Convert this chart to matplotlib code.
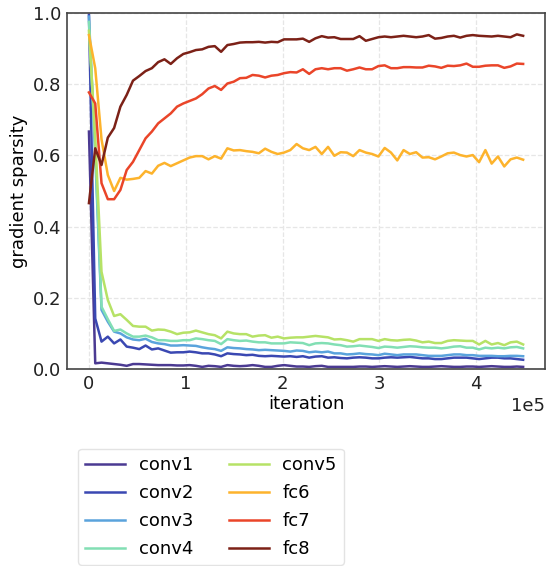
import numpy as np
import matplotlib
matplotlib.use("Agg")
import matplotlib.pyplot as plt

layer_names = ["conv1", "conv2", "conv3", "conv4", "conv5", "fc6", "fc7", "fc8"]
colors = ["#4b3a92", "#3a48b2", "#5aa3dc", "#82dfb4", "#b6e266", "#fdb32c", "#ea4529", "#7c2117"]

n_points = 70
iterations = np.arange(n_points) * 6500

conv1 = [0.667, 0.016, 0.018, 0.016, 0.014, 0.012, 0.009, 0.014, 0.014, 0.013, 0.012, 0.011, 0.011, 0.011, 0.010, 0.010,
         0.011, 0.009, 0.006, 0.009, 0.008, 0.006, 0.011, 0.009, 0.008, 0.009, 0.011, 0.009, 0.006, 0.006, 0.009, 0.011,
         0.009, 0.007, 0.007, 0.006, 0.008, 0.009, 0.006, 0.006, 0.006, 0.006, 0.006, 0.007,
         0.007, 0.006, 0.007, 0.008, 0.007, 0.006, 0.007, 0.008, 0.007, 0.006, 0.006, 0.007, 0.008, 0.007, 0.006, 0.006,
         0.007, 0.007, 0.006, 0.007, 0.008, 0.007, 0.006, 0.006, 0.007, 0.006]
conv2 = [0.995, 0.142, 0.077, 0.091, 0.072, 0.083, 0.063, 0.060, 0.056, 0.066, 0.055, 0.058, 0.052, 0.046, 0.047, 0.047,
         0.049, 0.047, 0.044, 0.044, 0.041, 0.036, 0.044, 0.042, 0.041, 0.039, 0.040, 0.037, 0.036, 0.037, 0.036, 0.035,
         0.036, 0.034, 0.036, 0.032, 0.035, 0.036, 0.032, 0.033, 0.031, 0.030, 0.032, 0.033,
         0.032, 0.030, 0.030, 0.032, 0.033, 0.032, 0.033, 0.034, 0.032, 0.030, 0.030, 0.028, 0.028, 0.030, 0.032, 0.032,
         0.032, 0.030, 0.028, 0.030, 0.032, 0.032, 0.030, 0.030, 0.028, 0.026]
conv3 = [0.990, 0.600, 0.166, 0.133, 0.105, 0.100, 0.089, 0.083, 0.081, 0.085, 0.076, 0.072, 0.070, 0.066, 0.066, 0.067,
         0.066, 0.065, 0.061, 0.058, 0.056, 0.051, 0.061, 0.059, 0.058, 0.056, 0.055, 0.053, 0.054, 0.053, 0.052, 0.051,
         0.049, 0.052, 0.051, 0.047, 0.049, 0.047, 0.049, 0.044, 0.044, 0.041, 0.042, 0.044,
         0.042, 0.041, 0.039, 0.043, 0.041, 0.039, 0.041, 0.041, 0.041, 0.039, 0.037, 0.037, 0.037, 0.039, 0.041, 0.041,
         0.039, 0.039, 0.037, 0.037, 0.037, 0.036, 0.036, 0.037, 0.037, 0.036]
conv4 = [0.975, 0.620, 0.175, 0.140, 0.107, 0.111, 0.100, 0.091, 0.091, 0.094, 0.089, 0.081, 0.081, 0.079, 0.079, 0.081,
         0.081, 0.086, 0.084, 0.081, 0.079, 0.070, 0.084, 0.081, 0.079, 0.080, 0.077, 0.075, 0.075, 0.072, 0.072, 0.072,
         0.075, 0.074, 0.073, 0.067, 0.072, 0.073, 0.072, 0.069, 0.067, 0.063, 0.064, 0.066,
         0.064, 0.062, 0.059, 0.063, 0.062, 0.060, 0.062, 0.064, 0.063, 0.061, 0.060, 0.060, 0.058, 0.060, 0.063, 0.064,
         0.060, 0.060, 0.055, 0.060, 0.058, 0.060, 0.058, 0.061, 0.062, 0.058]
conv5 = [0.950, 0.650, 0.273, 0.194, 0.149, 0.154, 0.138, 0.121, 0.119, 0.119, 0.108, 0.111, 0.110, 0.105, 0.098, 0.102,
         0.103, 0.108, 0.103, 0.098, 0.095, 0.086, 0.105, 0.100, 0.098, 0.098, 0.091, 0.094, 0.095, 0.088, 0.091, 0.086,
         0.088, 0.089, 0.089, 0.091, 0.093, 0.091, 0.089, 0.083, 0.084, 0.081, 0.077, 0.084,
         0.084, 0.084, 0.079, 0.084, 0.081, 0.080, 0.082, 0.083, 0.080, 0.075, 0.077, 0.073, 0.073, 0.079, 0.081, 0.080,
         0.079, 0.079, 0.069, 0.079, 0.069, 0.073, 0.067, 0.075, 0.077, 0.069]
fc6 = [0.938, 0.845, 0.645, 0.545, 0.500, 0.537, 0.532, 0.534, 0.537, 0.556, 0.549, 0.571, 0.579, 0.570, 0.578, 0.586,
       0.594, 0.598, 0.598, 0.589, 0.598, 0.591, 0.620, 0.614, 0.615, 0.612, 0.610, 0.606, 0.619, 0.610, 0.604, 0.608,
       0.615, 0.632, 0.620, 0.615, 0.624, 0.604, 0.624, 0.599, 0.609, 0.608, 0.598, 0.615,
       0.608, 0.604, 0.597, 0.621, 0.608, 0.586, 0.615, 0.604, 0.609, 0.594, 0.595, 0.589, 0.597, 0.606, 0.608, 0.601,
       0.597, 0.601, 0.581, 0.615, 0.577, 0.597, 0.569, 0.589, 0.594, 0.588]
fc7 = [0.777, 0.746, 0.522, 0.477, 0.477, 0.503, 0.559, 0.582, 0.615, 0.648, 0.667, 0.690, 0.704, 0.718, 0.737, 0.746,
       0.753, 0.760, 0.772, 0.788, 0.795, 0.784, 0.802, 0.807, 0.817, 0.818, 0.826, 0.824, 0.819, 0.824, 0.826, 0.831,
       0.834, 0.833, 0.842, 0.829, 0.842, 0.845, 0.842, 0.845, 0.845, 0.838, 0.842, 0.847,
       0.842, 0.842, 0.851, 0.853, 0.845, 0.845, 0.848, 0.848, 0.847, 0.847, 0.852, 0.850, 0.846, 0.852, 0.851, 0.853,
       0.858, 0.849, 0.849, 0.852, 0.853, 0.853, 0.846, 0.850, 0.858, 0.857]
fc8 = [0.466, 0.620, 0.573, 0.650, 0.677, 0.737, 0.770, 0.810, 0.823, 0.837, 0.845, 0.862, 0.870, 0.857, 0.873, 0.885,
       0.890, 0.896, 0.898, 0.905, 0.907, 0.891, 0.910, 0.913, 0.917, 0.918, 0.918, 0.919, 0.917, 0.919, 0.918, 0.926,
       0.926, 0.926, 0.928, 0.919, 0.929, 0.935, 0.931, 0.932, 0.927, 0.927, 0.927, 0.935,
       0.922, 0.927, 0.932, 0.934, 0.932, 0.934, 0.936, 0.934, 0.932, 0.934, 0.938, 0.928, 0.930, 0.934, 0.936, 0.931,
       0.936, 0.938, 0.936, 0.935, 0.934, 0.936, 0.934, 0.932, 0.940, 0.936]

series = [conv1, conv2, conv3, conv4, conv5, fc6, fc7, fc8]

plt.rcParams['font.family'] = ['DejaVu Sans']
fig = plt.figure(figsize=(5.46, 5.66), dpi=100)
ax = fig.add_axes([0.123, 0.348, 0.875, 0.629])

for name, vals, c in zip(layer_names, series, colors):
    ax.plot(iterations[:len(vals)], vals, color=c, lw=1.8, label=name)

ax.set_ylim(0, 1.0)
ax.set_xlim(-22500, 471000)
ax.set_xticks([0, 100000, 200000, 300000, 400000])
ax.set_yticks([0.0, 0.2, 0.4, 0.6, 0.8, 1.0])
ax.ticklabel_format(axis='x', style='sci', scilimits=(0, 0))
ax.xaxis.get_offset_text().set_fontsize(13)
ax.tick_params(labelsize=13, direction='in', length=0, pad=4, colors='#222222')
ax.grid(True, ls='--', color='#e6e6e6', lw=0.9)
ax.set_axisbelow(True)
for s in ax.spines.values():
    s.set_color('#444444')
    s.set_linewidth(1.2)
ax.set_xlabel('iteration', fontsize=13, labelpad=2)
ax.set_ylabel('gradient sparsity', fontsize=13, labelpad=4)

leg = fig.legend(loc='upper left', bbox_to_anchor=(0.143, 0.207), ncol=2, fontsize=13,
                 frameon=True, fancybox=True, borderaxespad=0, columnspacing=2.0,
                 handlelength=2.2, handletextpad=0.75, labelspacing=0.55)
leg.get_frame().set_edgecolor('#dddddd')

fig.savefig('out.png', dpi=100)
